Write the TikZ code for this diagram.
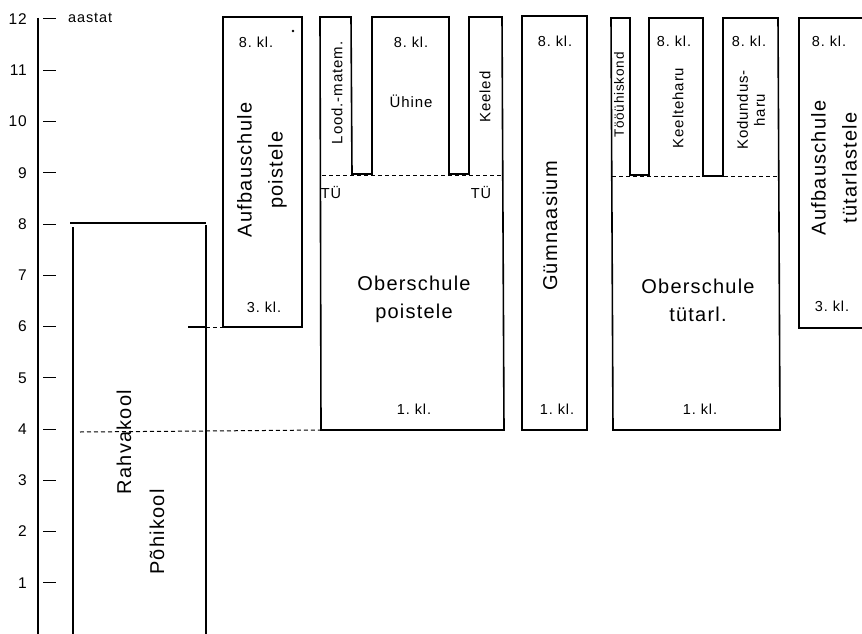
\documentclass[tikz,border=0pt]{standalone}
\usepackage{fontspec}
\setmainfont[LetterSpace=6]{Liberation Sans}
\begin{document}
\begin{tikzpicture}[x=1pt,y=-1pt,
  boxline/.style={line width=1.6pt, line join=miter},
  dashline/.style={dash pattern=on 4pt off 3pt, line width=1pt},
  big/.style={font=\fontsize{20}{28}\selectfont, align=center, inner sep=0pt},
  bigv/.style={font=\fontsize{20}{31}\selectfont, align=center, inner sep=0pt, rotate=90},
  mid/.style={font=\fontsize{15}{17}\selectfont, align=center, inner sep=0pt},
  midv/.style={font=\fontsize{15}{17}\selectfont, align=center, inner sep=0pt, rotate=90},
  smallv/.style={font=\fontsize{13.5}{16}\selectfont, align=center, inner sep=0pt, rotate=90},
  small/.style={font=\fontsize{14.5}{16}\selectfont, inner sep=0pt},
  num/.style={font=\fontsize{15.5}{17}\selectfont, inner sep=0pt, anchor=east}]
\useasboundingbox (0,0) rectangle (862,634);

% axis
\draw[line width=1.3pt] (38,18) -- (38,634);
\foreach \v in {1,...,12} {
  \draw[line width=1pt] (43,{634-51.25*\v}) -- (56,{634-51.25*\v});
  \node[num] (n\v) at (27,{634-51.25*\v}) {\v};
}
\node[small, anchor=west] (aastat) at (68,18) {aastat};

% Rahvakool / Pohikool
\draw[boxline] (70,223) -- (206,223);
\draw[boxline] (73,227) -- (73,634);
\draw[boxline] (206,225) -- (206,634);
\node[bigv] (rahva) at (124,442) {Rahvakool};
\node[bigv] (pohi) at (157,532) {Põhikool};
\coordinate (r4a) at (80,432);
\coordinate (r4b) at (206,431);
\coordinate (r4c) at (322,430);
\draw[dashline] (r4a) -- (r4b) -- (r4c);
\coordinate (r6a) at (188,327);
\coordinate (r6b) at (206,327);
\coordinate (r6c) at (223,327);
\draw[line width=1.2pt] (r6a) -- (r6b);
\draw[dashline] (r6b) -- (r6c);

% Aufbauschule poistele
\draw[boxline] (223,17) rectangle (302,327);
\node[small] (ap8) at (256,42) {8.\ kl.};
\node[small] (ap3) at (264,307) {3.\ kl.};
\node[bigv] (aptext) at (262,170) {Aufbauschule\\poistele};
\fill (293,31) circle (1.3pt);

% Oberschule poistele
\draw[boxline] (321,430) -- (320,17) -- (351,17) -- (352,174) -- (372,174) -- (372,17)
  -- (449,17) -- (449,174) -- (469,174) -- (469,17) -- (502,17) -- (504,430) -- cycle;
\coordinate (op9a) at (322,175);
\coordinate (op9b) at (503,175);
\draw[dashline] (op9a) -- (op9b);
\node[midv] (lood) at (337,93) {Lood.-matem.};
\node[small] (op8) at (411,42) {8.\ kl.};
\node[mid] (uhine) at (411,101) {Ühine};
\node[midv] (keeled) at (485,97) {Keeled};
\node[small] (tu1) at (331,193) {TÜ};
\node[small] (tu2) at (481,193) {TÜ};
\node[big] (optext) at (414,299) {Oberschule\\poistele};
\node[small] (op1) at (414,409) {1.\ kl.};

% Gumnaasium
\draw[boxline] (522,16) rectangle (587,430);
\node[small] (g8) at (555,41) {8.\ kl.};
\node[bigv] (gtext) at (550,226) {Gümnaasium};
\node[small] (g1) at (557,409) {1.\ kl.};

% Oberschule tutarl.
\draw[boxline] (613,430) -- (611,18) -- (630,18) -- (630,175) -- (649,175) -- (649,18)
  -- (703,18) -- (703,176) -- (723,176) -- (723,18) -- (778,18) -- (780,430) -- cycle;
\coordinate (ot9a) at (612,176);
\coordinate (ot9b) at (779,176);
\draw[dashline] (ot9a) -- (ot9b);
\node[smallv] (too) at (619,95) {Tööühiskond};
\node[small] (ot8a) at (674,41) {8.\ kl.};
\node[midv] (keelte) at (678,108) {Keelteharu};
\node[small] (ot8b) at (749,41) {8.\ kl.};
\node[midv] (kodu) at (751,110) {Kodundus-\\haru};
\node[big] (ottext) at (698,300) {Oberschule\\tütarl.};
\node[small] (ot1) at (700,409) {1.\ kl.};

% Aufbauschule tutarlastele
\draw[boxline] (862,18) -- (799,18) -- (799,328) -- (862,328);
\node[small] (at8) at (829,41) {8.\ kl.};
\node[small] (at3) at (832,306) {3.\ kl.};
\node[bigv] (attext) at (834,168) {Aufbauschule\\tütarlastele};
\end{tikzpicture}
\end{document}
